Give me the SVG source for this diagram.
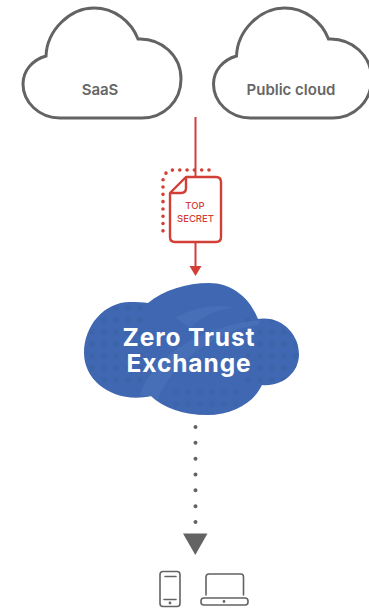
<svg xmlns="http://www.w3.org/2000/svg" width="369" height="608" viewBox="0 0 369 608">
<style>
.cl{fill:#fff;stroke:#636363;stroke-width:3}
.lb{font-family:"Inter","Liberation Sans",sans-serif;font-weight:600;font-size:15px;fill:#666;text-anchor:middle}
.ts{font-family:"Inter","Liberation Sans",sans-serif;font-weight:500;font-size:9.500px;fill:#d13f36;text-anchor:middle}
.zt{font-family:"Inter","Liberation Sans",sans-serif;font-weight:700;font-size:24.500px;fill:#fff;text-anchor:middle;letter-spacing:.9px}
.red{fill:none;stroke:#d13f36;stroke-width:2}
.ico{fill:none;stroke:#636363;stroke-width:1.6;stroke-linecap:round;stroke-linejoin:round}
</style>
<defs>
<path id="c" d="M46 56C47 30 70 8 94 8C114 8 131 21 138 39C162 38 181 56 181 79C181 101 164 118 142 118L60 118C39 118 23 102 23 84C23 71 32 60 46 56Z"/>
<clipPath id="bc"><path d="M84 353C84 326 104 302 130 302C137 302 143 302 148 303C163 290 187 283 209 283C232 283 250 298 258 319C281 315 299 334 299 354C299 373 282 387 262 385C254 402 234 415 207 415C184 415 163 408 151 396C115 404 84 382 84 353Z"/></clipPath>
<pattern id="dots" width="12" height="12" patternUnits="userSpaceOnUse" x="2" y="2"><circle cx="6" cy="6" r="3" fill="#38609f" opacity=".7"/></pattern>
</defs>
<rect width="369" height="608" fill="#fff"/>
<g id="connectors">
<path class="red" d="M195.500 117V176M195.500 242V268"/>
<path d="M189.500 266H201.500L195.500 276Z" fill="#d13f36"/>
<path d="M195.500 427V522" fill="none" stroke="#636363" stroke-width="4" stroke-linecap="round" stroke-dasharray="0 15.830"/>
<path d="M183 533.500H207.500L195.300 555Z" fill="#636363"/>
</g>
<g id="saas"><use href="#c" class="cl"/><text class="lb" x="100" y="95">SaaS</text></g>
<g id="public-cloud"><use href="#c" class="cl" x="190.500"/><text class="lb" x="291" y="95">Public cloud</text></g>
<g id="document">
<path d="M209 170H174C167 170 163 175 163 181V231" fill="none" stroke="#d13f36" stroke-width="3.600" stroke-linecap="round" stroke-dasharray="0 7.300"/>
<path d="M186 177H216C219 177 221 179 221 182V237C221 240 219 242 216 242H175C172 242 170 240 170 237V193Z" fill="#fff" stroke="#d13f36" stroke-width="2.400" stroke-linejoin="round"/>
<path d="M186 177V188C186 191 184 193 181 193H170" fill="none" stroke="#d13f36" stroke-width="2.400"/>
<text class="ts" x="195" y="209">TOP</text>
<text class="ts" x="195.500" y="222">SECRET</text>
</g>
<g id="zero-trust-exchange">
<path d="M84 353C84 326 104 302 130 302C137 302 143 302 148 303C163 290 187 283 209 283C232 283 250 298 258 319C281 315 299 334 299 354C299 373 282 387 262 385C254 402 234 415 207 415C184 415 163 408 151 396C115 404 84 382 84 353Z" fill="#4068b2"/>
<g clip-path="url(#bc)">
<rect x="84" y="300" width="60" height="90" fill="url(#dots)" opacity=".6"/>
<rect x="240" y="318" width="60" height="70" fill="url(#dots)" opacity=".6"/>
<rect x="170" y="385" width="70" height="30" fill="url(#dots)" opacity=".5"/>
<path d="M176 318C195 305 225 304 232 308C215 310 200 318 190 328ZM140 395C150 360 200 325 262 320L258 325C215 330 170 365 158 400Z" fill="#4d75ba" opacity=".6"/>
</g>
<text class="zt"><tspan x="189" y="346">Zero Trust</tspan><tspan x="189" y="372">Exchange</tspan></text>
</g>
<g id="phone" class="ico">
<rect x="160" y="571.500" width="20" height="35" rx="3"/>
<path d="M165 576.500H176M164 599.500H176"/>
<circle cx="170" cy="603" r=".6"/>
</g>
<g id="laptop" class="ico">
<path d="M206 595V577C206 575 207 574 209 574H241C243 574 243.500 575 243.500 577V595"/>
<rect x="201" y="598" width="47" height="7" rx="3"/>
<circle cx="224" cy="601.500" r=".6"/>
</g>
</svg>
